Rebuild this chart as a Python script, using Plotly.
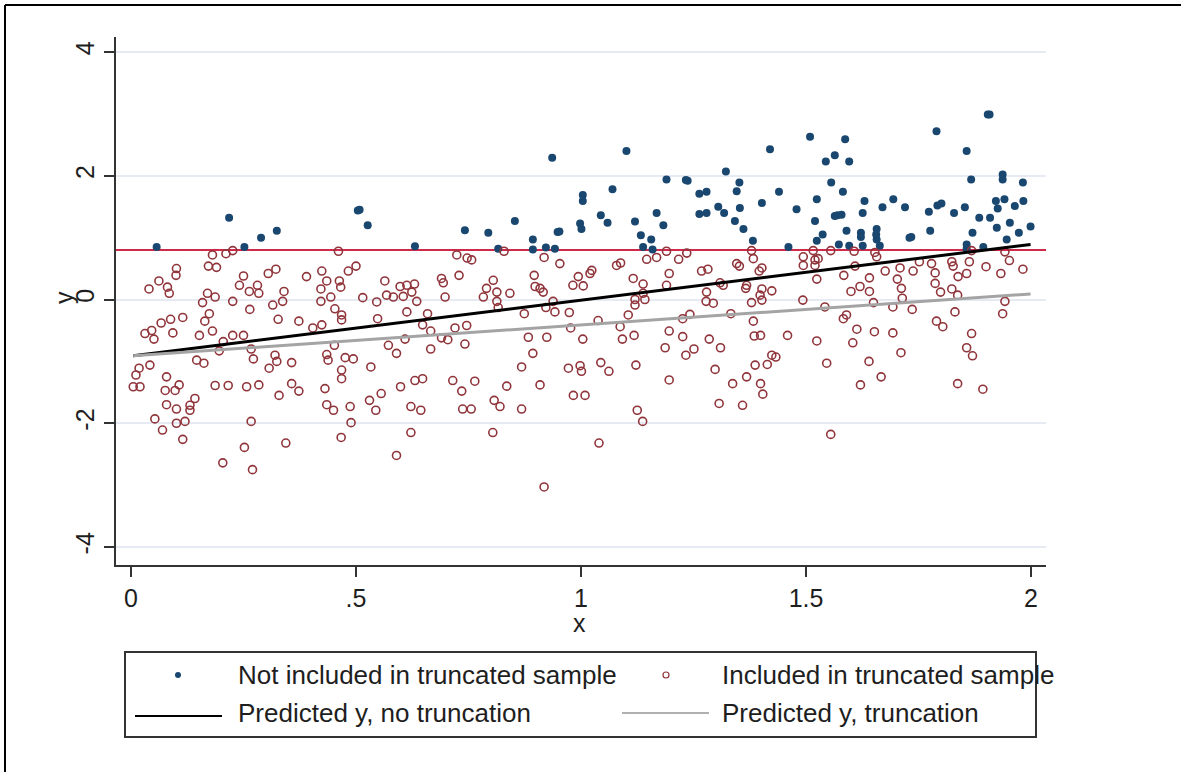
import plotly.graph_objects as go

# ---------------- data ----------------
blue_x = [0.057, 0.218, 0.252, 0.289, 0.324, 0.504, 0.526, 0.631, 0.742, 0.794,
          0.853, 0.816, 0.893, 0.893, 0.922, 0.942, 0.948, 0.936, 1.004, 1.004,
          0.998, 1.001, 1.044, 1.059, 1.070, 1.101, 1.120, 1.133, 1.156, 1.138,
          1.159, 1.168, 1.183, 1.190, 1.233, 1.263, 1.279, 1.263, 1.279, 1.305,
          1.322, 1.352, 1.346, 1.318, 1.353, 1.342, 1.361, 1.382, 1.420, 1.402,
          1.440, 1.461, 1.479, 1.509, 1.524, 1.520, 1.524, 1.537, 1.544, 1.564,
          1.587, 1.596, 1.556, 1.582, 1.564, 1.579, 1.590, 1.573, 1.596, 1.622,
          1.622, 1.626, 1.626, 1.630, 1.657, 1.656, 1.657, 1.664, 1.670, 1.694,
          1.720, 1.730, 1.776, 1.773, 1.790, 1.792, 1.801, 1.829, 1.853, 1.857,
          1.867, 1.870, 1.857, 1.857, 1.885, 1.894, 1.904, 1.909, 1.922, 1.924,
          1.926, 1.937, 1.937, 1.941, 1.946, 1.953, 1.964, 1.973, 1.982, 1.983,
          1.999, 0.508, 0.952, 1.237, 1.908, 1.734, 1.570]
blue_y = [0.85, 1.32, 0.85, 1.00, 1.11, 1.44, 1.20, 0.86, 1.12, 1.08,
          1.27, 0.82, 0.97, 0.81, 0.84, 0.82, 1.09, 2.29, 1.69, 1.59,
          1.23, 1.14, 1.36, 1.24, 1.78, 2.40, 1.26, 1.04, 0.97, 0.85,
          0.81, 1.40, 1.20, 1.94, 1.93, 1.71, 1.74, 1.38, 1.40, 1.50,
          2.07, 1.89, 1.75, 1.40, 1.48, 1.27, 1.14, 0.95, 2.43, 1.56,
          1.74, 0.85, 1.46, 2.63, 1.62, 1.27, 0.95, 1.05, 2.23, 2.33,
          2.59, 2.23, 1.89, 1.74, 1.35, 1.37, 1.11, 0.89, 0.87, 1.08,
          1.01, 0.87, 1.40, 1.59, 1.14, 1.05, 0.97, 0.87, 1.49, 1.62,
          1.49, 1.00, 1.11, 1.42, 2.72, 1.52, 1.55, 1.40, 1.49, 2.40,
          1.94, 1.08, 0.89, 0.82, 1.32, 0.85, 2.99, 1.32, 1.59, 1.16,
          1.47, 2.02, 1.94, 1.62, 0.97, 1.24, 1.51, 1.08, 1.89, 1.59,
          1.18, 1.45, 1.10, 1.92, 2.99, 1.01, 1.36]

red_x = [0.181, 0.211, 0.226, 0.172, 0.190, 0.101, 0.100, 0.062, 0.081, 0.085,
         0.040, 0.170, 0.187, 0.159, 0.226, 0.250, 0.241, 0.263, 0.281, 0.284,
         0.264, 0.305, 0.322, 0.340, 0.337, 0.315, 0.390, 0.424, 0.435, 0.422,
         0.422, 0.444, 0.461, 0.483, 0.500, 0.463, 0.466, 0.453, 0.515, 0.546,
         0.031, 0.046, 0.051, 0.067, 0.088, 0.115, 0.093, 0.042, 0.018, 0.011,
         0.005, 0.020, 0.079, 0.076, 0.098, 0.107, 0.079, 0.101, 0.131, 0.142,
         0.131, 0.053, 0.070, 0.101, 0.120, 0.115, 0.152, 0.181, 0.164, 0.174,
         0.146, 0.162, 0.196, 0.205, 0.226, 0.250, 0.267, 0.272, 0.187, 0.216,
         0.257, 0.284, 0.267, 0.252, 0.204, 0.270, 0.307, 0.324, 0.320, 0.357,
         0.329, 0.357, 0.373, 0.344, 0.373, 0.327, 0.404, 0.424, 0.435, 0.438,
         0.452, 0.431, 0.435, 0.450, 0.468, 0.468, 0.494, 0.476, 0.487, 0.489,
         0.467, 0.468, 0.468, 0.533, 0.530, 0.544, 0.556, 0.548, 0.572, 0.590,
         0.599, 0.590,
         0.724, 0.747, 0.757, 0.729, 0.690, 0.694, 0.698, 0.564, 0.568, 0.598,
         0.613, 0.630, 0.624, 0.605, 0.583, 0.635, 0.613, 0.659, 0.783, 0.790,
         0.805, 0.813, 0.813, 0.842, 0.816, 0.829, 0.874, 0.896, 0.898, 0.909,
         0.916, 0.918, 0.953, 0.938, 0.942, 0.974, 0.982, 0.994, 1.005, 1.020,
         1.024, 1.079, 1.088, 1.116, 1.138, 1.138, 1.120, 1.142, 1.120, 1.105,
         1.146, 1.168, 1.190, 1.196, 1.190, 1.217, 1.235, 1.268, 1.282, 1.279,
         1.278, 1.294, 1.242, 0.922, 1.226,
         1.379, 1.383, 1.346, 1.352, 1.402, 1.396, 1.309, 1.316, 1.368, 1.366,
         1.402, 1.424, 1.398, 1.402, 1.379, 1.333, 1.494, 1.494, 1.516, 1.520,
         1.527, 1.520, 1.524, 1.493, 1.542, 1.555, 1.584, 1.607, 1.609, 1.600,
         1.620, 1.641, 1.641, 1.650, 1.653, 1.657, 1.676, 1.693, 1.709, 1.703,
         1.712, 1.714, 1.736, 1.738, 1.752, 1.779, 1.787, 1.787, 1.799, 1.824,
         1.827, 1.838, 1.824, 1.837, 1.831, 1.863, 1.857, 1.868, 1.900, 1.933,
         1.942, 1.952, 1.982, 1.942, 1.937,
         0.609, 0.666, 0.648, 0.666, 0.690, 0.704, 0.720, 0.746, 0.742, 0.631,
         0.648, 0.622, 0.644, 0.622, 0.715, 0.735, 0.764, 0.737, 0.756, 0.807,
         0.820, 0.835, 0.804, 0.868, 0.868, 0.909, 0.893, 0.883, 0.924, 0.918,
         0.977, 1.004, 0.972, 0.998, 1.001, 0.983, 1.009, 1.044, 1.062, 1.040,
         1.038, 1.087, 1.092, 1.118, 1.122, 1.125, 1.137, 1.196, 1.187, 1.226,
         1.233, 1.251, 1.196, 1.285, 1.298, 1.307, 1.310,
         1.383, 1.385, 1.399, 1.459, 1.424, 1.433, 1.414, 1.387, 1.368, 1.337,
         1.399, 1.404, 1.359, 1.524, 1.546, 1.555, 1.583, 1.590, 1.604, 1.613,
         1.640, 1.621, 1.667, 1.652, 1.693, 1.711, 1.790, 1.804, 1.868, 1.857,
         1.870, 1.837, 1.893]
red_y = [0.72, 0.74, 0.79, 0.54, 0.52, 0.50, 0.39, 0.30, 0.20, 0.10,
         0.17, 0.10, 0.04, -0.05, -0.03, 0.38, 0.23, 0.13, 0.23, 0.10,
         -0.16, 0.42, 0.49, 0.13, -0.03, -0.09, 0.37, 0.46, 0.30, 0.17,
         -0.03, 0.04, 0.78, 0.46, 0.54, 0.30, 0.20, -0.15, 0.03, -0.04,
         -0.55, -0.50, -0.64, -0.38, -0.32, -0.29, -0.54, -1.06, -1.11, -1.22,
         -1.41, -1.41, -1.25, -1.47, -1.47, -1.38, -1.70, -1.77, -1.71, -1.60,
         -1.79, -1.93, -2.11, -2.00, -1.97, -2.26, -0.58, -0.51, -0.35, -0.23,
         -0.98, -1.03, -0.83, -0.68, -0.58, -0.58, -0.80, -0.96, -1.39, -1.39,
         -1.41, -1.38, -1.97, -2.39, -2.64, -2.75, -1.11, -1.00, -0.90, -1.02,
         -1.55, -1.36, -1.48, -2.32, -0.35, -0.32, -0.46, -0.41, -0.89, -0.98,
         -0.74, -1.44, -1.70, -1.79, -1.14, -1.28, -0.96, -0.94, -1.73, -1.99,
         -2.23, -0.33, -0.25, -1.09, -1.63, -1.79, -1.52, -0.31, -0.74, -0.87,
         -1.41, -2.52,
         0.72, 0.67, 0.64, 0.39, 0.34, 0.27, 0.04, 0.30, 0.07, 0.21,
         0.23, 0.25, 0.12, 0.05, 0.04, -0.03, -0.20, -0.23, 0.04, 0.18,
         0.31, 0.12, -0.03, 0.10, -0.13, 0.78, -0.23, 0.39, 0.21, 0.18,
         0.12, 0.68, 0.58, -0.03, -0.20, -0.21, 0.23, 0.37, 0.22, 0.42,
         0.47, 0.55, 0.59, 0.34, 0.25, 0.10, 0.00, 0.00, -0.09, -0.25,
         0.65, 0.68, 0.78, 0.42, 0.23, 0.65, 0.75, 0.46, 0.49, 0.12,
         -0.03, -0.06, -0.24, -0.13, -0.31,
         0.79, 0.66, 0.58, 0.54, 0.51, 0.46, 0.27, 0.23, 0.23, 0.18,
         0.17, 0.14, 0.07, -0.01, -0.05, -0.23, 0.69, 0.55, 0.79, 0.64,
         0.66, 0.55, 0.33, -0.01, -0.12, 0.79, 0.39, 0.78, 0.54, 0.13,
         0.21, 0.35, 0.13, -0.05, 0.76, 0.69, 0.46, -0.12, 0.51, 0.33,
         0.18, 0.02, -0.16, 0.46, 0.61, 0.58, 0.43, 0.26, 0.12, 0.61,
         0.54, 0.37, 0.17, 0.07, -0.20, 0.61, 0.42, 0.79, 0.53, 0.42,
         0.77, 0.63, 0.49, -0.03, -0.23,
         -0.64, -0.80, -0.41, -0.51, -0.62, -0.65, -0.46, -0.42, -0.72, -1.31,
         -1.28, -1.73, -1.79, -2.15, -1.31, -1.48, -1.32, -1.77, -1.77, -1.63,
         -1.73, -1.40, -2.15, -1.09, -1.77, -1.38, -0.87, -0.61, -0.61, -3.03,
         -0.46, -0.64, -1.11, -1.07, -1.16, -1.55, -1.55, -1.02, -1.16, -2.32,
         -0.34, -0.44, -0.64, -0.58, -1.06, -1.79, -1.97, -0.51, -0.78, -0.60,
         -0.90, -0.80, -1.30, -0.64, -1.13, -1.68, -0.78,
         -0.35, -0.59, -0.58, -0.58, -0.90, -0.93, -1.05, -1.06, -1.25, -1.36,
         -1.36, -1.53, -1.71, -0.67, -1.03, -2.18, -0.31, -0.25, -0.70, -0.48,
         -1.00, -1.38, -1.25, -0.52, -0.54, -0.86, -0.35, -0.44, -0.55, -0.78,
         -0.91, -1.36, -1.45]

line_x = [0.005, 1.999]
pred_no_trunc_y = [-0.91, 0.89]
pred_trunc_y = [-0.91, 0.09]
trunc_point = 0.8

x_ticks = [0, 0.5, 1, 1.5, 2]
x_tick_labels = ["0", ".5", "1", "1.5", "2"]
y_ticks = [-4, -2, 0, 2, 4]
y_tick_labels = ["-4", "-2", "0", "2", "4"]

legend_labels = ["Not included in truncated sample", "Included in truncated sample",
                 "Predicted y, no truncation", "Predicted y, truncation"]

# ---------------- figure geometry ----------------
W, H = 1181, 772
L, R, T, B = 116, 1046, 37, 565  # plot area in pixels
pw, ph = R - L, B - T

def px(xp):
    return (xp - L) / pw

def py(yp):
    return (B - yp) / ph

FONT = "Liberation Sans, Arial, sans-serif"
NAVY = "#1a476f"
MAROON = "#90353b"
TXT = "#1e1e1e"

fig = go.Figure()
fig.add_trace(go.Scatter(
    x=blue_x, y=blue_y, mode="markers", name=legend_labels[0],
    marker=dict(symbol="circle", size=8, color=NAVY, line=dict(width=0))))
fig.add_trace(go.Scatter(
    x=red_x, y=red_y, mode="markers", name=legend_labels[1],
    marker=dict(symbol="circle-open", size=8, color=MAROON, line=dict(width=1.6, color=MAROON))))
fig.add_trace(go.Scatter(
    x=line_x, y=pred_no_trunc_y, mode="lines", name=legend_labels[2],
    line=dict(color="#000000", width=3)))
fig.add_trace(go.Scatter(
    x=line_x, y=pred_trunc_y, mode="lines", name=legend_labels[3],
    line=dict(color="#a4a4a4", width=3)))

shapes = [
    dict(type="line", xref="paper", yref="y", x0=0, x1=1, y0=trunc_point, y1=trunc_point,
         line=dict(color="#cf2a4a", width=2), layer="below"),
    # outer frame of the figure (top and left edges only)
    dict(type="line", xref="paper", yref="paper", x0=px(5), x1=px(1181), y0=py(5), y1=py(5),
         line=dict(color="#000", width=2)),
    dict(type="line", xref="paper", yref="paper", x0=px(5), x1=px(5), y0=py(5), y1=py(772),
         line=dict(color="#000", width=2)),
    # legend box and keys
    dict(type="rect", xref="paper", yref="paper", x0=px(125), x1=px(1036), y0=py(652), y1=py(737),
         line=dict(color="#333", width=2), fillcolor="white"),
    dict(type="circle", xref="paper", yref="paper", x0=px(175), x1=px(181), y0=py(672), y1=py(678),
         line=dict(color=NAVY, width=0), fillcolor=NAVY),
    dict(type="circle", xref="paper", yref="paper", x0=px(663), x1=px(669), y0=py(672), y1=py(678),
         line=dict(color=MAROON, width=1.2), fillcolor="rgba(0,0,0,0)"),
    dict(type="line", xref="paper", yref="paper", x0=px(135), x1=px(222), y0=py(716), y1=py(716),
         line=dict(color="#000", width=2)),
    dict(type="line", xref="paper", yref="paper", x0=px(622), x1=px(709), y0=py(713), y1=py(713),
         line=dict(color="#b0b0b0", width=2)),
]

annotations = [
    dict(text=legend_labels[0], x=px(236), y=py(675), xref="paper", yref="paper",
         xanchor="left", yanchor="middle", showarrow=False, font=dict(size=26, color=TXT)),
    dict(text=legend_labels[1], x=px(720), y=py(675), xref="paper", yref="paper",
         xanchor="left", yanchor="middle", showarrow=False, font=dict(size=26, color=TXT)),
    dict(text=legend_labels[2], x=px(236), y=py(713), xref="paper", yref="paper",
         xanchor="left", yanchor="middle", showarrow=False, font=dict(size=26, color=TXT)),
    dict(text=legend_labels[3], x=px(720), y=py(713), xref="paper", yref="paper",
         xanchor="left", yanchor="middle", showarrow=False, font=dict(size=26, color=TXT)),
    # axis titles
    dict(text="x", x=px(579), y=py(623), xref="paper", yref="paper", height=20,
         xanchor="center", yanchor="middle", showarrow=False, font=dict(size=25, color=TXT)),
    dict(text="y", x=px(64), y=py(298), xref="paper", yref="paper", textangle=-90,
         xanchor="center", yanchor="middle", showarrow=False, font=dict(size=25, color=TXT)),
]

fig.update_layout(
    width=W, height=H,
    margin=dict(l=L, r=W - R, t=T, b=H - B, pad=0, autoexpand=False),
    paper_bgcolor="white", plot_bgcolor="white",
    font=dict(family=FONT, size=25, color=TXT),
    showlegend=False,
    shapes=shapes,
    annotations=annotations,
    xaxis=dict(range=[(L - 131) / 450, (R - 131) / 450], tickvals=x_ticks, ticktext=x_tick_labels,
               showgrid=False, zeroline=False, showline=True, linecolor="#333", linewidth=2,
               ticks="outside", ticklen=10, tickwidth=2, tickcolor="#333",
               tickfont=dict(size=25, color=TXT)),
    yaxis=dict(range=[-4 - (B - 547) / 61.875, 4 + (52 - T) / 61.875], tickvals=y_ticks,
               ticktext=y_tick_labels, tickangle=-90,
               showgrid=True, gridcolor="#e6ebf3", gridwidth=2, zeroline=False,
               showline=True, linecolor="#333", linewidth=2,
               ticks="outside", ticklen=10, tickwidth=2, tickcolor="#333",
               tickfont=dict(size=25, color=TXT)),
)

fig.write_html("out.html", config={"displayModeBar": False},
               post_script="document.body.style.margin='0px';document.body.style.overflow='hidden';")
